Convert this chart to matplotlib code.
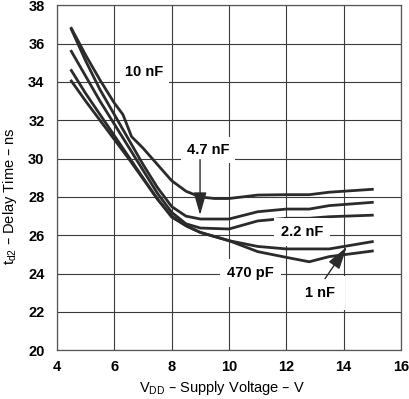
import numpy as np
import matplotlib
matplotlib.use("Agg")
import matplotlib.pyplot as plt

plt.rcParams['font.family'] = ['Liberation Sans', 'DejaVu Sans']
plt.rcParams['mathtext.default'] = 'regular'

# supply voltage (V) and delay time (ns) per load capacitance
x_10n = [4.5, 5.0, 5.5, 6.0, 6.3, 6.6, 7.0, 7.5, 8.0, 8.5, 9.0, 9.5, 10.0, 11.0, 12.0, 12.8, 13.5, 15.0]
y_10n = [36.8, 35.4, 34.1, 32.9, 32.3, 31.15, 30.55, 29.7, 28.85, 28.3, 28.0, 27.92, 27.92, 28.1, 28.12, 28.12, 28.25, 28.4]

x_4n7 = [4.5, 5.0, 5.5, 6.0, 6.5, 7.0, 7.5, 8.0, 8.5, 9.0, 10.0, 11.0, 12.0, 12.8, 13.5, 15.0]
y_4n7 = [36.75, 35.1, 33.6, 32.3, 31.0, 29.7, 28.5, 27.5, 27.0, 26.85, 26.85, 27.23, 27.37, 27.37, 27.55, 27.72]

x_2n2 = [4.5, 5.0, 5.5, 6.0, 6.5, 7.0, 7.5, 8.0, 8.5, 9.0, 10.0, 11.0, 12.0, 12.8, 13.5, 15.0]
y_2n2 = [35.6, 34.3, 33.0, 31.8, 30.6, 29.4, 28.2, 27.2, 26.6, 26.38, 26.33, 26.75, 26.89, 26.89, 26.97, 27.05]

x_1n = [4.5, 5.0, 5.5, 6.0, 6.5, 7.0, 7.5, 8.0, 8.5, 9.0, 10.0, 11.0, 12.0, 13.5, 15.0]
y_1n = [34.6, 33.4, 32.3, 31.2, 30.1, 29.0, 27.9, 27.0, 26.5, 26.15, 25.72, 25.42, 25.29, 25.29, 25.67]

x_470p = [4.5, 5.0, 5.5, 6.0, 6.5, 7.0, 7.5, 8.0, 8.5, 9.0, 10.0, 11.0, 12.0, 12.8, 13.5, 15.0]
y_470p = [34.05, 33.0, 32.0, 31.0, 30.0, 28.95, 27.9, 26.95, 26.5, 26.15, 25.72, 25.15, 24.85, 24.62, 24.89, 25.18]

xticks = [4, 6, 8, 10, 12, 14, 16]
yticks = [20, 22, 24, 26, 28, 30, 32, 34, 36, 38]

fig = plt.figure(figsize=(4.09, 3.99), dpi=100)
ax = fig.add_axes([0.1394, 0.122, 0.841, 0.8647])

lc = '#2b2b2b'
for xs, ys in [(x_10n, y_10n), (x_4n7, y_4n7), (x_2n2, y_2n2), (x_1n, y_1n), (x_470p, y_470p)]:
    ax.plot(xs, ys, color=lc, lw=2.0, zorder=3)

ax.set_xlim(4, 16)
ax.set_ylim(20, 38)
ax.set_xticks(xticks)
ax.set_yticks(yticks)
ax.grid(True, color='#3a3a3a', lw=0.8)
ax.tick_params(length=0, labelsize=10.5, pad=9)
ax.tick_params(axis='x', pad=7)
for lab in ax.get_xticklabels() + ax.get_yticklabels():
    lab.set_fontweight('bold')
for s in ax.spines.values():
    s.set_color('#555555')
    s.set_linewidth(0.9)

ax.set_xlabel('V$_{DD}$ \u2013 Supply Voltage \u2013 V', fontsize=10.5)
ax.set_ylabel('t$_{d2}$ \u2013 Delay Time \u2013 ns', fontsize=10.5)
ax.xaxis.set_label_coords(0.48, -0.084)
ax.yaxis.set_label_coords(-0.11, 0.446)

fs = 10.5
ax.text(7.05, 34.5, '10 nF', fontsize=fs, fontweight='bold', ha='center', va='center',
        bbox=dict(facecolor='white', edgecolor='none', pad=4), zorder=4)
ax.text(9.27, 30.45, '4.7 nF', fontsize=fs, fontweight='bold', ha='center', va='center',
        bbox=dict(facecolor='white', edgecolor='none', pad=4), zorder=4)
ax.text(12.55, 26.17, '2.2 nF', fontsize=fs, fontweight='bold', ha='center', va='center',
        bbox=dict(facecolor='white', edgecolor='none', pad=5), zorder=4)
ax.text(10.74, 24.05, '470 pF', fontsize=fs, fontweight='bold', ha='center', va='center',
        bbox=dict(facecolor='white', edgecolor='none', pad=5), zorder=4)
ax.text(13.18, 22.98, '1 nF', fontsize=fs, fontweight='bold', ha='center', va='center',
        bbox=dict(facecolor='white', edgecolor='none', pad=7), zorder=4)

arr = dict(arrowstyle='-|>,head_length=0.7,head_width=0.2', mutation_scale=20,
           color=lc, lw=1.0, shrinkA=0, shrinkB=0)
ax.annotate('', xy=(8.99, 27.06), xytext=(8.99, 29.95), arrowprops=arr, zorder=5)
ax.annotate('', xy=(14.11, 25.4), xytext=(13.35, 23.74), arrowprops=arr, zorder=5)

fig.savefig('out.png', dpi=100)
